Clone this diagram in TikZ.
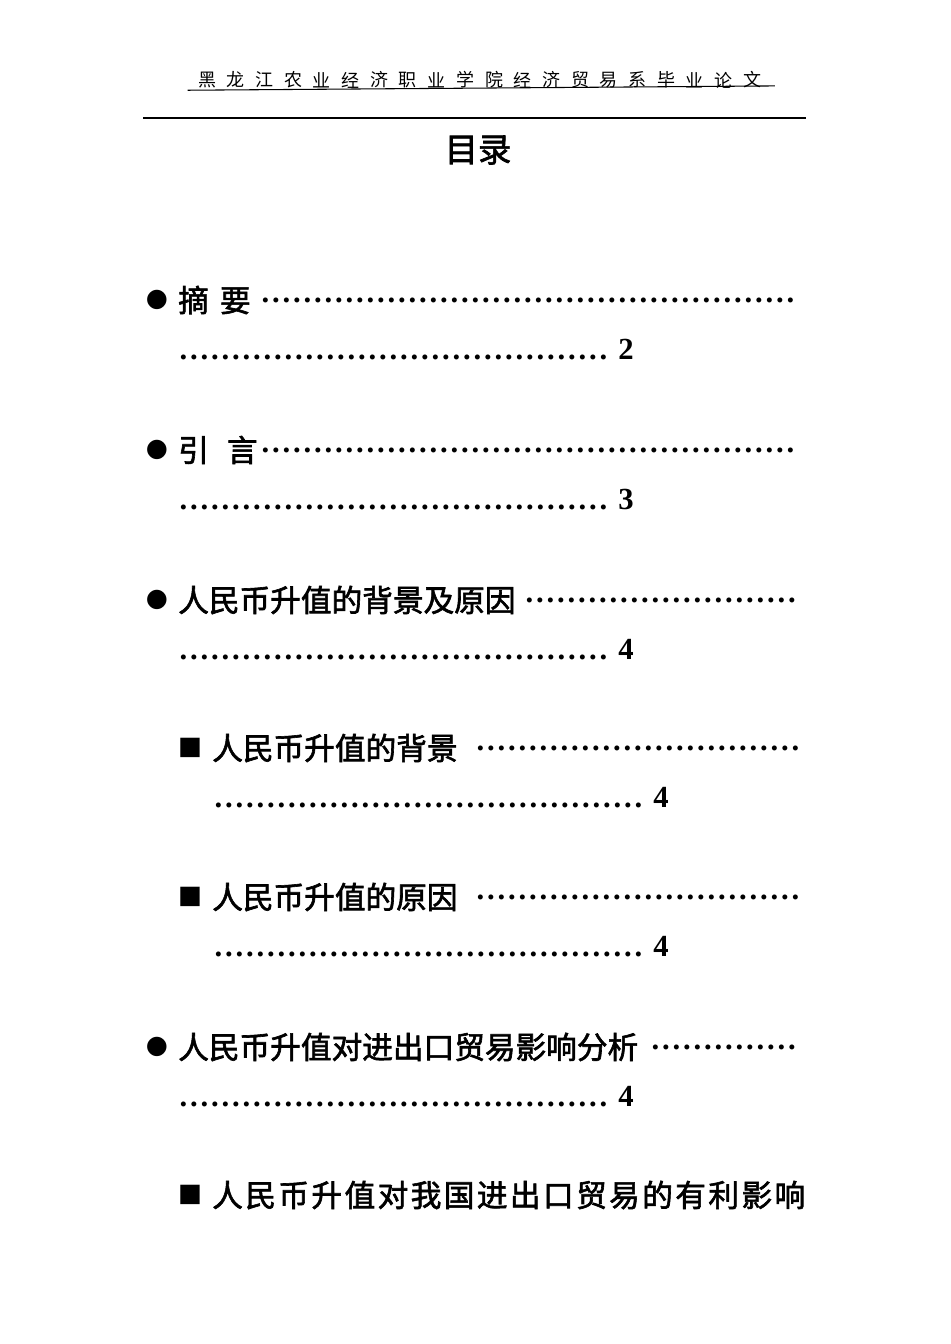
\documentclass[tikz,border=0pt]{standalone}
\usepackage{fontspec}
\setmainfont{Liberation Serif}
\newfontfamily\cjk{Noto Sans CJK SC}
\newfontfamily\cjkb[FakeBold=2]{Noto Sans CJK SC}
\newfontfamily\dvs{DejaVu Sans}
\newlength\px \setlength\px{0.75pt}
\newcommand\mydots[1]{\hbox to #1\px{\leaders\hbox to 10.5\px{\hss\textbf{.}\hss}\hfill}}
\tikzset{
  entry/.style={anchor=west,inner sep=0pt,font=\fontsize{23}{26}\selectfont\cjkb},
  dotrow/.style={anchor=west,inner sep=0pt,font=\fontsize{23}{26}\selectfont\bfseries},
  bul/.style={inner sep=0pt,font=\fontsize{19}{20}\selectfont\dvs},
}
\begin{document}
\begin{tikzpicture}[x=0.75pt,y=-0.75pt]
\useasboundingbox[fill=white] (0,0) rectangle (950,1344);
% header
\foreach \c [count=\i from 0] in {黑,龙,江,农,业,经,济,职,业,学,院,经,济,贸,易,系,毕,业,论,文}
  \node[inner sep=0pt,font=\fontsize{13.5}{15}\selectfont\cjk] (h\i) at (207+\i*28.7,80) {\c};
\draw[line width=0.8pt] (h0.south west) ++(-10,2) coordinate (ul1) -- ([xshift=10,yshift=2]h19.south east) coordinate (ul2);
\coordinate (r1) at (143,118); \coordinate (r2) at (806,118);
\draw[line width=0.8pt] (r1) -- (r2);
\node[inner sep=0pt,font=\fontsize{25}{28}\selectfont\cjkb] (title) at (478,150) {目录};
% entries
\node[bul] (b1) at (157,300) {●};
\node[entry] (t1) at (178,300) {摘\hspace{11\px}要};
\node[dotrow] (d1) at (260,300) {\mydots{545}};
\node[dotrow] (e1) at (178,350) {\mydots{440}2};

\node[bul] (b2) at (157,450) {●};
\node[entry] (t2) at (178,450) {引\hspace{18\px}言};
\node[dotrow] (d2) at (260,450) {\mydots{545}};
\node[dotrow] (e2) at (178,500) {\mydots{440}3};

\node[bul] (b3) at (157,600) {●};
\node[entry] (t3) at (178,600) {人民币升值的背景及原因};
\node[dotrow] (d3) at (524,600) {\mydots{281}};
\node[dotrow] (e3) at (178,650) {\mydots{440}4};

\node[bul] (b4) at (190,748) {■};
\node[entry] (t4) at (212,748) {人民币升值的背景};
\node[dotrow] (d4) at (475,748) {\mydots{330}};
\node[dotrow] (e4) at (213,798) {\mydots{440}4};

\node[bul] (b5) at (190,897) {■};
\node[entry] (t5) at (212,897) {人民币升值的原因};
\node[dotrow] (d5) at (475,897) {\mydots{330}};
\node[dotrow] (e5) at (213,947) {\mydots{440}4};

\node[bul] (b6) at (157,1047) {●};
\node[entry] (t6) at (178,1047) {人民币升值对进出口贸易影响分析};
\node[dotrow] (d6) at (650,1047) {\mydots{155}};
\node[dotrow] (e6) at (178,1097) {\mydots{440}4};

\node[bul] (b7) at (190,1195) {■};
\node[entry] (t7) at (212,1195) {\hbox to 593\px{人\hfil 民\hfil 币\hfil 升\hfil 值\hfil 对\hfil 我\hfil 国\hfil 进\hfil 出\hfil 口\hfil 贸\hfil 易\hfil 的\hfil 有\hfil 利\hfil 影\hfil 响}};
\end{tikzpicture}
\end{document}
